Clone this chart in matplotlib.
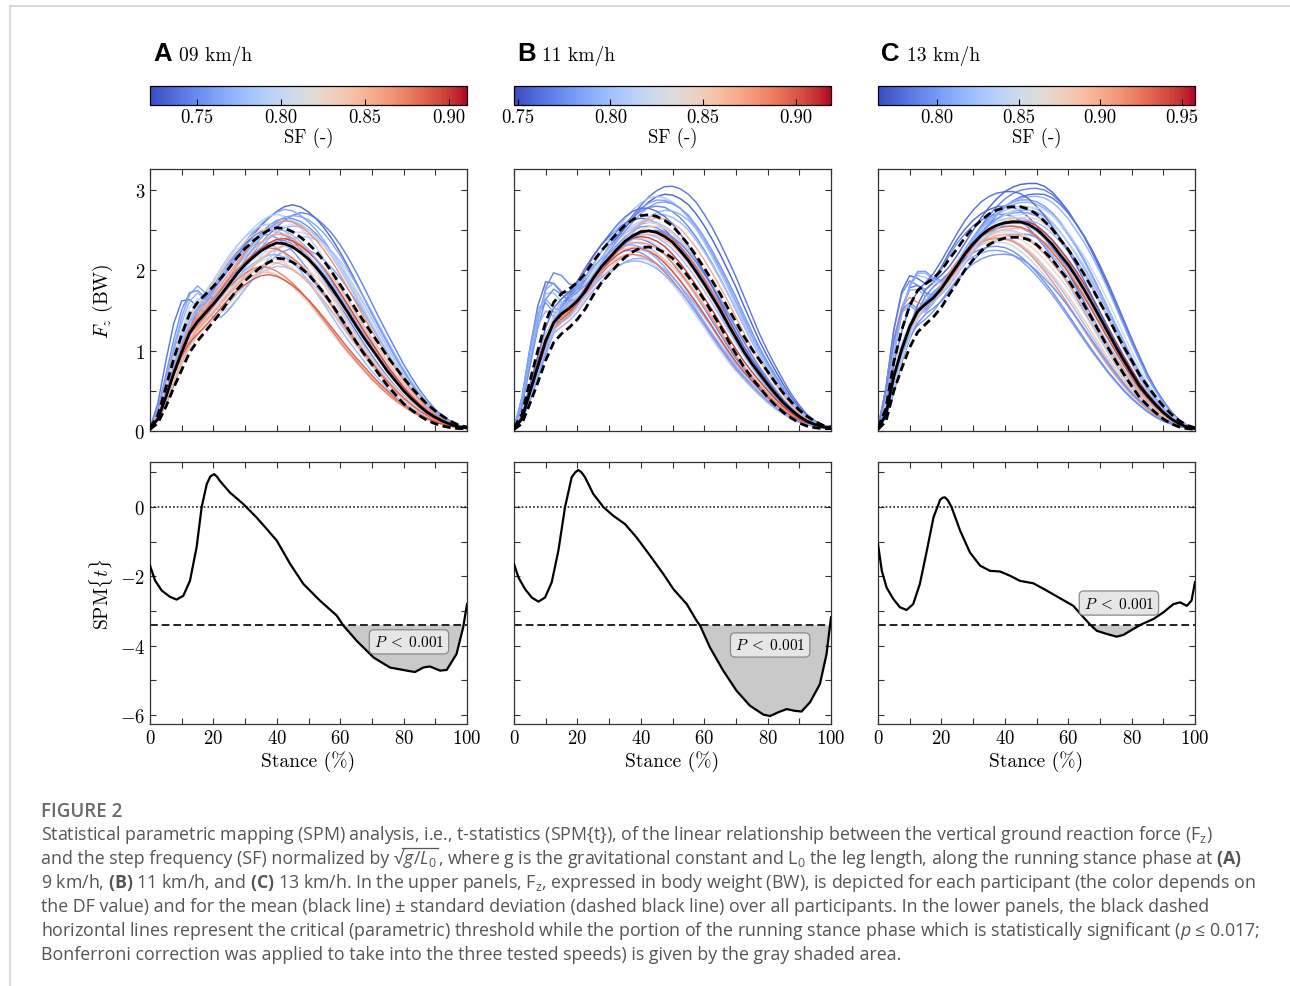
import numpy as np
import matplotlib
matplotlib.use("Agg")
import matplotlib.pyplot as plt
from matplotlib.ticker import MultipleLocator
from matplotlib.colors import Normalize
from matplotlib.cm import ScalarMappable
from matplotlib.lines import Line2D

plt.rcParams.update({
    "font.family": "cmr10",
    "mathtext.fontset": "cm",
    "axes.formatter.use_mathtext": True,
    "mathtext.rm": "Open Sans",
    "mathtext.it": "Open Sans:italic",
    "mathtext.bf": "Open Sans:bold",
})

# ---------------- data ----------------
speeds = ["09 km/h", "11 km/h", "13 km/h"]
panel_letters = ["A", "B", "C"]
sf_limits = [(0.722, 0.911), (0.748, 0.919), (0.764, 0.958)]
sf_ticks = [[0.75, 0.80, 0.85, 0.90], [0.75, 0.80, 0.85, 0.90], [0.80, 0.85, 0.90, 0.95]]

stance = np.arange(0, 100.01, 2.5)

mean_A = [0.03, 0.15, 0.42, 0.72, 0.98, 1.22, 1.36, 1.47, 1.58, 1.70, 1.83, 1.96, 2.07, 2.16,
          2.24, 2.30, 2.34, 2.33, 2.29, 2.22, 2.14, 2.03, 1.91, 1.77, 1.62, 1.47, 1.31, 1.16,
          1.02, 0.88, 0.74, 0.62, 0.50, 0.40, 0.31, 0.23, 0.17, 0.12, 0.08, 0.05, 0.04]
sd_A = [0.01, 0.05, 0.12, 0.18, 0.22, 0.24, 0.24, 0.23, 0.22, 0.21, 0.20, 0.20, 0.20, 0.20,
        0.20, 0.20, 0.19, 0.19, 0.19, 0.19, 0.19, 0.20, 0.20, 0.20, 0.20, 0.20, 0.20, 0.20,
        0.19, 0.19, 0.18, 0.17, 0.16, 0.14, 0.12, 0.10, 0.08, 0.06, 0.04, 0.02, 0.01]
mean_B = [0.03, 0.15, 0.48, 0.80, 1.12, 1.35, 1.46, 1.53, 1.62, 1.74, 1.90, 2.04, 2.15, 2.26,
          2.36, 2.43, 2.48, 2.49, 2.47, 2.42, 2.35, 2.24, 2.12, 1.98, 1.83, 1.67, 1.51, 1.33,
          1.16, 0.99, 0.84, 0.71, 0.58, 0.46, 0.35, 0.26, 0.18, 0.12, 0.08, 0.05, 0.04]
sd_B = [0.01, 0.06, 0.14, 0.20, 0.24, 0.25, 0.25, 0.24, 0.23, 0.22, 0.21, 0.20, 0.20, 0.20,
        0.20, 0.20, 0.20, 0.20, 0.20, 0.20, 0.20, 0.20, 0.20, 0.20, 0.20, 0.20, 0.20, 0.20,
        0.20, 0.19, 0.18, 0.17, 0.16, 0.14, 0.12, 0.10, 0.08, 0.06, 0.04, 0.02, 0.01]
mean_C = [0.03, 0.20, 0.68, 1.02, 1.30, 1.49, 1.58, 1.66, 1.77, 1.92, 2.06, 2.21, 2.33, 2.43,
          2.51, 2.56, 2.59, 2.60, 2.60, 2.57, 2.51, 2.42, 2.32, 2.19, 2.07, 1.92, 1.76, 1.59,
          1.41, 1.23, 1.05, 0.88, 0.72, 0.56, 0.44, 0.33, 0.23, 0.15, 0.09, 0.05, 0.03]
sd_C = [0.01, 0.08, 0.18, 0.24, 0.26, 0.26, 0.25, 0.24, 0.23, 0.22, 0.21, 0.20, 0.20, 0.19,
        0.19, 0.19, 0.19, 0.19, 0.19, 0.19, 0.19, 0.19, 0.19, 0.19, 0.19, 0.19, 0.19, 0.19,
        0.19, 0.19, 0.18, 0.17, 0.16, 0.14, 0.12, 0.10, 0.08, 0.06, 0.04, 0.02, 0.01]

# curves with a visible impact peak
impact_A = [0.04, 0.30, 0.78, 1.25, 1.60, 1.72, 1.62, 1.55, 1.66, 1.82, 1.98, 2.13, 2.26, 2.38,
            2.47, 2.53, 2.55, 2.54, 2.50, 2.43, 2.34, 2.22, 2.09, 1.94, 1.78, 1.62, 1.45, 1.28,
            1.12, 0.96, 0.81, 0.67, 0.54, 0.43, 0.33, 0.24, 0.17, 0.11, 0.07, 0.05, 0.03]
impact_B = [0.04, 0.35, 0.95, 1.50, 1.88, 1.92, 1.78, 1.72, 1.82, 1.98, 2.14, 2.28, 2.40, 2.50,
            2.58, 2.65, 2.69, 2.70, 2.68, 2.62, 2.54, 2.43, 2.30, 2.15, 1.99, 1.82, 1.64, 1.45,
            1.27, 1.09, 0.92, 0.77, 0.62, 0.49, 0.37, 0.27, 0.19, 0.12, 0.08, 0.05, 0.03]
impact_C = [0.04, 0.45, 1.15, 1.65, 1.92, 1.95, 1.85, 1.82, 1.92, 2.08, 2.25, 2.40, 2.52, 2.62,
            2.70, 2.75, 2.79, 2.80, 2.79, 2.75, 2.68, 2.58, 2.46, 2.32, 2.17, 2.00, 1.82, 1.63,
            1.44, 1.25, 1.07, 0.89, 0.73, 0.57, 0.44, 0.32, 0.22, 0.14, 0.09, 0.05, 0.03]

# participants: step frequency, peak force (BW), timing shift (%), impact-type curve
sf_A = [0.728, 0.735, 0.740, 0.745, 0.748, 0.752, 0.756, 0.760, 0.764, 0.768, 0.772, 0.776,
        0.780, 0.784, 0.788, 0.792, 0.796, 0.800, 0.805, 0.810, 0.815, 0.820, 0.826, 0.832,
        0.838, 0.845, 0.852, 0.858, 0.865, 0.872, 0.878, 0.885, 0.892, 0.900, 0.760, 0.770]
peak_A = [2.82, 2.50, 2.72, 2.38, 2.65, 2.45, 2.28, 2.76, 2.20, 2.55, 2.35, 2.62,
          2.05, 2.42, 2.58, 2.70, 2.30, 2.48, 2.15, 2.58, 2.25, 2.00, 2.40, 2.12,
          2.52, 1.98, 2.32, 2.10, 2.45, 2.62, 2.05, 2.28, 1.95, 2.40, 2.68, 2.52]
shift_A = [4, -3, 7, 0, 3, -5, 6, 2, -2, 5, -6, 3,
           0, 8, -4, -1, 2, 6, -3, 4, -2, -6, 1, 2,
           -4, -5, 3, -2, 0, 2, -6, -3, -4, 1, 5, -1]
impact_flag_A = [0, 1, 0, 0, 1, 0, 1, 0, 0, 1, 0, 0,
                 0, 1, 0, 0, 0, 1, 0, 0, 0, 0, 0, 0,
                 0, 0, 0, 0, 0, 0, 0, 0, 0, 0, 1, 0]

sf_B = [0.752, 0.756, 0.760, 0.764, 0.768, 0.772, 0.776, 0.780, 0.784, 0.788, 0.792, 0.796,
        0.800, 0.805, 0.810, 0.815, 0.820, 0.826, 0.832, 0.838, 0.845, 0.852, 0.858, 0.865,
        0.872, 0.880, 0.888, 0.896, 0.905, 0.912, 0.770, 0.780, 0.790, 0.800, 0.760, 0.785]
peak_B = [2.95, 2.65, 3.05, 2.40, 2.80, 2.55, 2.25, 2.88, 2.60, 2.15, 2.75, 2.45,
          2.92, 2.35, 2.62, 2.50, 2.20, 2.70, 2.40, 2.60, 2.30, 2.55, 2.25, 2.45,
          2.65, 2.35, 2.20, 2.50, 2.28, 2.42, 2.50, 2.85, 2.12, 2.70, 2.78, 2.32]
shift_B = [6, -2, 7, -4, 3, 0, -6, 4, 1, -3, 6, -1,
           3, -5, 0, 2, -6, 4, -3, 0, -4, 2, -2, 0,
           3, -3, -5, 1, -4, -2, 2, 5, -4, 4, -1, -6]
impact_flag_B = [0, 1, 0, 0, 1, 0, 1, 0, 1, 0, 0, 1,
                 0, 0, 0, 0, 0, 0, 0, 0, 0, 0, 0, 0,
                 0, 0, 0, 0, 0, 0, 1, 0, 1, 0, 0, 1]

sf_C = [0.768, 0.772, 0.776, 0.780, 0.784, 0.788, 0.792, 0.796, 0.800, 0.804, 0.808, 0.812,
        0.816, 0.820, 0.825, 0.830, 0.836, 0.842, 0.848, 0.855, 0.862, 0.870, 0.878, 0.886,
        0.895, 0.905, 0.918, 0.935, 0.950, 0.810, 0.800, 0.790, 0.820, 0.775, 0.795, 0.845]
peak_C = [3.08, 2.80, 2.95, 2.60, 3.02, 2.70, 2.45, 2.88, 2.25, 2.75, 2.55, 2.92,
          2.65, 2.40, 2.80, 2.50, 2.62, 2.35, 2.70, 2.48, 2.58, 2.42, 2.66, 2.38,
          2.52, 2.45, 2.40, 2.55, 2.62, 2.85, 2.72, 2.30, 2.62, 2.98, 2.20, 2.78]
shift_C = [5, -3, 7, 0, 6, -4, 2, 4, -6, 3, -1, 6,
           0, -5, 3, -3, 1, -6, 4, -2, 0, -3, 3, -4,
           0, -2, -5, -1, 1, 4, 2, -6, 3, -2, -4, 5]
impact_flag_C = [0, 1, 0, 1, 0, 1, 0, 1, 1, 0, 1, 0,
                 0, 0, 1, 0, 0, 0, 0, 0, 0, 0, 0, 0,
                 0, 0, 1, 0, 0, 1, 0, 1, 0, 0, 0, 0]

# SPM{t} curves
spm_x_A = [0, 1.6, 3.7, 6.3, 8.4, 10.5, 12.6, 14.7, 16.3, 17.9, 19.0, 20.2, 21.1, 22.0, 25.2,
           29.4, 33.6, 36.8, 40.0, 44.2, 48.4, 53.6, 58.9, 61.0, 65.2, 70.5, 75.7, 81.0, 83.6,
           86.2, 88.3, 91.5, 93.6, 96.7, 98.8, 100]
spm_t_A = [-1.69, -2.12, -2.41, -2.59, -2.67, -2.56, -2.13, -1.16, 0.00, 0.66, 0.88, 0.95, 0.88,
           0.76, 0.42, 0.09, -0.30, -0.63, -0.97, -1.64, -2.22, -2.70, -3.13, -3.42, -3.86, -4.34,
           -4.63, -4.72, -4.76, -4.63, -4.60, -4.72, -4.70, -4.24, -3.47, -2.80]
spm_x_B = [0, 1.4, 3.5, 5.6, 7.7, 9.8, 11.9, 14.0, 16.1, 18.2, 19.3, 20.3, 21.3, 22.4, 25.0,
           28.2, 31.3, 35.0, 38.7, 42.9, 47.1, 50.3, 54.5, 57.6, 58.7, 61.8, 66.0, 70.2, 74.4,
           78.7, 80.8, 83.4, 86.0, 88.6, 90.7, 93.4, 96.5, 98.6, 100]
spm_t_B = [-1.64, -2.03, -2.37, -2.61, -2.73, -2.61, -2.17, -1.26, 0.00, 0.86, 1.00, 1.07, 1.00,
           0.86, 0.38, 0.00, -0.25, -0.49, -0.88, -1.40, -1.93, -2.37, -2.80, -3.28, -3.42, -4.05,
           -4.72, -5.30, -5.73, -5.99, -6.03, -5.92, -5.83, -5.88, -5.90, -5.63, -5.11, -4.24, -3.18]
spm_x_C = [0, 1.2, 2.7, 4.8, 6.9, 9.0, 11.1, 13.2, 15.4, 17.5, 19.6, 20.4, 21.1, 22.0, 23.2,
           25.9, 29.0, 32.2, 35.3, 38.5, 41.6, 44.8, 49.0, 53.2, 57.4, 61.6, 64.8, 66.9, 69.0,
           72.1, 75.3, 77.4, 80.5, 83.2, 86.9, 90.0, 93.2, 95.3, 97.4, 98.9, 100]
spm_t_C = [-1.07, -1.84, -2.32, -2.65, -2.89, -2.97, -2.80, -2.22, -1.26, -0.30, 0.21, 0.27, 0.28,
           0.20, 0.00, -0.68, -1.31, -1.69, -1.84, -1.86, -1.98, -2.13, -2.20, -2.41, -2.63, -2.85,
           -3.18, -3.39, -3.57, -3.66, -3.74, -3.69, -3.52, -3.38, -3.23, -3.04, -2.80, -2.75,
           -2.85, -2.70, -2.17]
thresholds = [-3.40, -3.40, -3.40]
p_labels = [r"$P\;<\;0.001$", r"$P\;<\;0.001$", r"$P\;<\;0.001$"]
p_label_pos = [(81.7, -3.89), (80.8, -3.98), (76.0, -2.77)]

caption_title = "FIGURE 2"
# each caption line is a list of pieces: (text, gap before in px, overlined)
caption_lines = [
    [(r"Statistical parametric mapping (SPM) analysis, i.e., t-statistics (SPM{t}), of the linear relationship between the vertical ground reaction force (F$_\mathrm{z}$)", 0, False)],
    [(r"and the step frequency (SF) normalized by", 0, False),
     ("√", 4, False),
     (r"$g/L_0$", 0, True),
     (r", where g is the gravitational constant and L$_0$ the leg length, along the running stance phase at $\mathbf{(A)}$", 1, False)],
    [(r"9 km/h, $\mathbf{(B)}$ 11 km/h, and $\mathbf{(C)}$ 13 km/h. In the upper panels, F$_\mathrm{z}$, expressed in body weight (BW), is depicted for each participant (the color depends on", 0, False)],
    [(r"the DF value) and for the mean (black line) ± standard deviation (dashed black line) over all participants. In the lower panels, the black dashed", 0, False)],
    [(r"horizontal lines represent the critical (parametric) threshold while the portion of the running stance phase which is statistically significant ($p$ ≤ 0.017;", 0, False)],
    [(r"Bonferroni correction was applied to take into the three tested speeds) is given by the gray shaded area.", 0, False)],
]

means = [mean_A, mean_B, mean_C]
sds = [sd_A, sd_B, sd_C]
impacts = [impact_A, impact_B, impact_C]
sfs = [sf_A, sf_B, sf_C]
peaks = [peak_A, peak_B, peak_C]
shifts = [shift_A, shift_B, shift_C]
flags = [impact_flag_A, impact_flag_B, impact_flag_C]
spm_xs = [spm_x_A, spm_x_B, spm_x_C]
spm_ts = [spm_t_A, spm_t_B, spm_t_C]

# ---------------- figure ----------------
W, H = 1290, 987
fig = plt.figure(figsize=(W / 100, H / 100), dpi=100)

def fx(px):
    return px / W

def fy(py):
    return 1 - py / H

# web-page frame
fig.add_artist(Line2D([fx(10), 1], [fy(7), fy(7)], color="#d2d2d2", lw=1.2))
fig.add_artist(Line2D([fx(10), fx(10)], [fy(7), 0], color="#d2d2d2", lw=1.2))

col_left = [150, 514, 878]
col_w = 317
cmap = plt.get_cmap("coolwarm")
TS = 13.5

def style_axes(ax):
    for s in ax.spines.values():
        s.set_linewidth(0.9)
        s.set_color("#333333")
    ax.tick_params(which="both", direction="in", top=True, right=True, length=4.5,
                   width=0.8, labelsize=TS, color="#333333")

for i in range(3):
    L = col_left[i]
    t = stance
    mean = np.array(means[i])
    sd = np.array(sds[i])
    norm = Normalize(*sf_limits[i])

    # colorbar
    cax = fig.add_axes([fx(L), fy(106), fx(col_w), 19 / H])
    sm = ScalarMappable(norm=norm, cmap=cmap)
    cb = fig.colorbar(sm, cax=cax, orientation="horizontal")
    cb.set_ticks(sf_ticks[i], labels=["%.2f" % v for v in sf_ticks[i]])
    cb.ax.tick_params(direction="in", length=4, width=0.8, labelsize=TS, pad=2)
    cb.outline.set_linewidth(0.9)
    cb.set_label("SF (-)", fontsize=TS, labelpad=1)

    fig.text(fx(L + 3), fy(61), panel_letters[i], fontsize=18.5, fontweight="bold",
             family="Liberation Sans", ha="left", va="baseline")
    fig.text(fx(L + 29 if i != 1 else L + 28), fy(61), speeds[i], fontsize=14,
             ha="left", va="baseline")

    # upper panel: Fz curves
    ax1 = fig.add_axes([fx(L), fy(432), fx(col_w), 262 / H])
    for sfv, pk, sh, fl in zip(sfs[i], peaks[i], shifts[i], flags[i]):
        prof = np.array(impacts[i]) if fl else mean
        tw = t - sh * 4 * (t / 100) * (1 - t / 100)
        y = np.interp(tw, t, prof) * pk / prof.max()
        ax1.plot(t, y, color=cmap(norm(sfv)), lw=1.05, alpha=0.9, zorder=1)
    ax1.plot(t, mean + sd, color="black", lw=2.0, ls=(0, (3, 1.6)), zorder=3)
    ax1.plot(t, mean - sd, color="black", lw=2.0, ls=(0, (3, 1.6)), zorder=3)
    ax1.plot(t, mean, color="black", lw=2.0, zorder=4)
    ax1.set_xlim(0, 100)
    ax1.set_ylim(0, 3.26)
    ax1.xaxis.set_major_locator(MultipleLocator(10))
    ax1.yaxis.set_major_locator(MultipleLocator(1))
    ax1.yaxis.set_minor_locator(MultipleLocator(0.5))
    style_axes(ax1)
    ax1.tick_params(labelbottom=False)
    if i != 0:
        ax1.tick_params(labelleft=False)
    else:
        ax1.set_ylabel(r"$F_z$ (BW)", fontsize=14)
        ax1.yaxis.set_label_coords(-0.11, 0.5)

    # lower panel: SPM
    ax2 = fig.add_axes([fx(L), fy(725), fx(col_w), 262 / H])
    xs = np.array(spm_xs[i])
    ts = np.array(spm_ts[i])
    thr = thresholds[i]
    ax2.fill_between(xs, ts, thr, where=ts < thr, interpolate=True, color="#c9c9c9",
                     lw=0, zorder=1)
    ax2.plot(xs, ts, color="black", lw=1.6, zorder=3)
    ax2.axhline(thr, color="#222222", lw=1.4, ls=(0, (4, 2)), zorder=2)
    ax2.axhline(0, color="#222222", lw=1.2, ls=(0, (1, 1.3)), zorder=2)
    px, py = p_label_pos[i]
    ax2.text(px, py, p_labels[i], fontsize=11, ha="center", va="center", zorder=5,
             bbox=dict(boxstyle="round,pad=0.3", fc="#e6e6e6", ec="#8a8a8a", lw=0.9))
    ax2.set_xlim(0, 100)
    ax2.set_ylim(-6.26, 1.3)
    ax2.xaxis.set_major_locator(MultipleLocator(20))
    ax2.xaxis.set_minor_locator(MultipleLocator(10))
    ax2.yaxis.set_major_locator(MultipleLocator(2))
    ax2.yaxis.set_minor_locator(MultipleLocator(1))
    style_axes(ax2)
    ax2.set_xlabel("Stance (%)", fontsize=14)
    ax2.xaxis.set_label_coords(0.5, -0.1)
    if i != 0:
        ax2.tick_params(labelleft=False)
    else:
        ax2.set_ylabel(r"SPM$\{t\}$", fontsize=14)
        ax2.yaxis.set_label_coords(-0.11, 0.5)

# caption
fig.text(fx(41), fy(817), caption_title, fontsize=13.5, color="#6a6a6a", family="Open Sans",
         fontweight="semibold", ha="left", va="baseline")
renderer = fig.canvas.get_renderer()
for k, pieces in enumerate(caption_lines):
    xpix = 41
    base = 840 + 24 * k
    for piece, gap, over in pieces:
        xpix += gap
        txt = fig.text(fx(xpix), fy(base), piece, fontsize=12.8, color="#555555",
                       family=["Open Sans", "DejaVu Sans"], math_fontfamily="custom",
                       ha="left", va="baseline")
        bb = txt.get_window_extent(renderer)
        if over:
            fig.add_artist(Line2D([fx(xpix - 1), fx(bb.x1 + 1)], [fy(base - 15), fy(base - 15)],
                                  color="#555555", lw=0.9))
        xpix = bb.x1

fig.savefig("out.png", dpi=100)
